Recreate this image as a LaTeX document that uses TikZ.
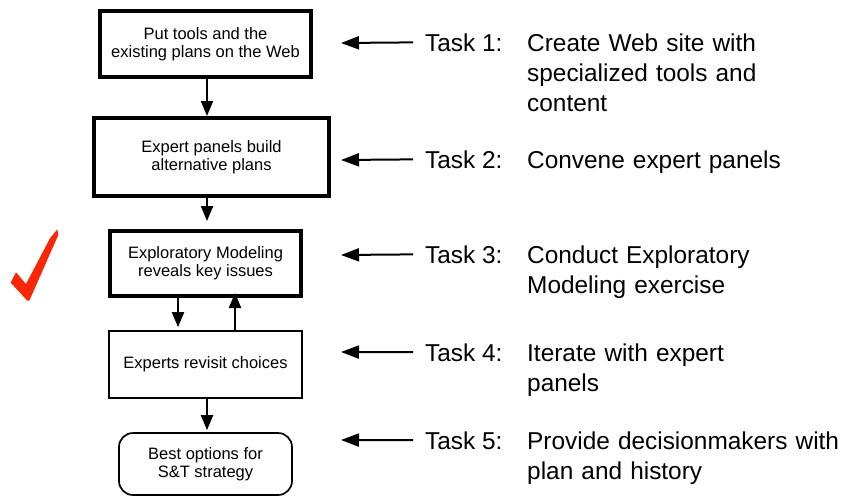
\documentclass[tikz,border=0pt]{standalone}
\usepackage{fontspec}
\setmainfont{Liberation Sans}
\usetikzlibrary{arrows.meta}
\definecolor{tickred}{RGB}{250,38,8}
\tikzset{
  >={Triangle[length=15pt,width=12pt]},
  heavybox/.style={draw, line width=4pt, align=center, inner sep=0pt, font=\fontsize{16.5}{18}\selectfont},
  lightbox/.style={heavybox, line width=1.7pt},
  endbox/.style={lightbox, rounded corners=14pt},
  tasklbl/.style={anchor=base west, inner sep=0pt, font=\fontsize{24.4}{30}\selectfont},
  taskdesc/.style={tasklbl, text width=330pt, align=left},
  flow/.style={->, line width=2pt},
  pointer/.style={-{Triangle[length=18pt,width=13pt]}, line width=2pt, shorten <=12pt},
}
\begin{document}
\begin{tikzpicture}[x=1pt, y=-1pt]
  \useasboundingbox (0,0) rectangle (853,498);
  \node[heavybox, minimum width=211pt, minimum height=66pt] (put) at (205.5,44) {Put tools and the\\existing plans on the Web};
  \node[heavybox, minimum width=235pt, minimum height=78pt] (panels) at (211.5,157) {Expert panels build\\alternative plans};
  \node[heavybox, minimum width=191pt, minimum height=65pt] (explore) at (205.5,263.5) {Exploratory Modeling\\reveals key issues};
  \node[lightbox, minimum width=193pt, minimum height=67pt] (revisit) at (205.5,364.5) {Experts revisit choices};
  \node[endbox, minimum width=173pt, minimum height=62pt] (best) at (205.5,464) {Best options for\\S\&T strategy};
  \draw[flow] ([xshift=1.5pt]put.south) -- ([xshift=1.5pt]put.south |- panels.north);
  \draw[flow, shorten >=8pt] ([xshift=-4.5pt]panels.south) -- ([xshift=1.5pt]explore.north);
  \draw[flow, shorten >=3pt] ([xshift=-27.5pt]explore.south) -- ([xshift=-27.5pt]revisit.north);
  \draw[flow, shorten >=-5pt] ([xshift=29.5pt]revisit.north) -- ([xshift=29.5pt]explore.south);
  \draw[flow, shorten >=2pt] ([xshift=1.5pt]revisit.south) -- ([xshift=1.5pt]best.north);
  \node[tasklbl] (tk1) at (425,51) {Task 1:};
  \node[tasklbl] (tk2) at (425,168) {Task 2:};
  \node[tasklbl] (tk3) at (425,263) {Task 3:};
  \node[tasklbl] (tk4) at (425,361) {Task 4:};
  \node[tasklbl] (tk5) at (425,449) {Task 5:};
  \node[taskdesc] (d1) at (527,51) {Create Web site with\\specialized tools and\\content};
  \node[taskdesc] (d2) at (527,168) {Convene expert panels};
  \node[taskdesc] (d3) at (527,263) {Conduct Exploratory\\Modeling exercise};
  \node[taskdesc] (d4) at (527,361) {Iterate with expert\\panels};
  \node[taskdesc] (d5) at (527,449) {Provide decisionmakers with\\plan and history};
  \coordinate (p1) at (341,43);
  \coordinate (p2) at (341,160);
  \coordinate (p3) at (341,255);
  \coordinate (p4) at (341,352);
  \coordinate (p5) at (341,440);
  \foreach \i in {1,...,5}
    \draw[pointer] (tk\i.west) -- (p\i);
  \fill[tickred] (57.3,229.3) -- (58.3,235) -- (29.3,300.7) -- (27.3,300.7) -- (10.7,282.7) -- (16,272.3) -- (26,284) -- (50,238.3) -- cycle;
\end{tikzpicture}
\end{document}
